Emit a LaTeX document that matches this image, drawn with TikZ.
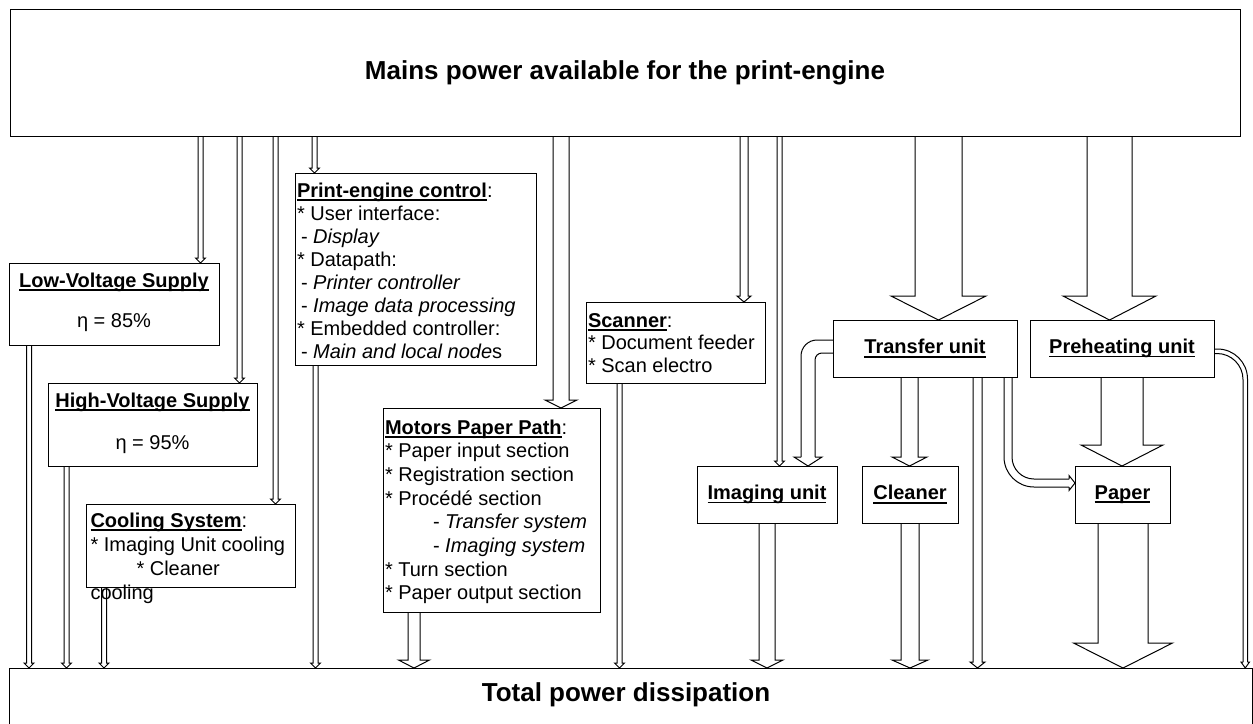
\documentclass[tikz,border=0pt]{standalone}
\usepackage{fontspec}
\setmainfont{Liberation Sans}
\usetikzlibrary{calc}
\pgfdeclarelayer{bg}
\pgfsetlayers{bg,main}

% underline with a fixed rule just below the baseline
\newsavebox\ulbox
\newcommand\ulin[1]{\sbox\ulbox{#1}\rlap{\rule[-3.6pt]{\wd\ulbox}{1.5pt}}\usebox\ulbox}
\newcommand\bigbold{\fontsize{26}{30}\selectfont\bfseries}
\newcommand\firstline{\rule{0pt}{15pt}}

% vertical block arrow from the south side of #1 to the north side of #2
% #3 centre x, #4 shaft width, #5 head width, #6 head length
\newcommand\varrow[6]{%
  \draw[flow] let \p1=(#1.south), \p2=(#2.north) in
    (#3pt-#4pt/2,\y1) -- (#3pt-#4pt/2,\y2+#6pt) -- (#3pt-#5pt/2,\y2+#6pt) -- (#3pt,\y2)
    -- (#3pt+#5pt/2,\y2+#6pt) -- (#3pt+#4pt/2,\y2+#6pt) -- (#3pt+#4pt/2,\y1);}

\begin{document}
\begin{tikzpicture}[x=1pt,y=-1pt,
  box/.style={draw=black,fill=white,line width=1pt,inner sep=0pt,outer sep=0pt,anchor=north west},
  flow/.style={draw=black,fill=white,line width=1pt,line join=miter},
  fline/.style={draw=black,line width=1pt,line join=miter},
  txt/.style={inner sep=0pt,outer sep=0pt,align=left,anchor=north west},
  lbl/.style={inner sep=0pt,outer sep=0pt,anchor=base,font=\fontsize{20}{24}\selectfont},
  ulbl/.style={font=\fontsize{20}{24}\selectfont\bfseries}]

\useasboundingbox (0,0) rectangle (1253,723);

% supply and sink
\node[box,minimum width=1230pt,minimum height=127pt,font=\bigbold] (mains) at (10,9)
  {Mains power available for the print-engine};
\node[box,minimum width=1243pt,minimum height=56pt] (total) at (9,668) {};
\node[inner sep=0pt,font=\bigbold] (total-t) at (626,695) {Total power dissipation};

% power supplies
\node[box,minimum width=210pt,minimum height=82pt] (lv) at (9,263) {};
\node[lbl] (lv-t) at (114,287) {\bfseries\ulin{Low-Voltage Supply}};
\node[lbl] (lv-e) at (114,327) {η = 85\%};
\node[box,minimum width=209pt,minimum height=83pt] (hv) at (48,383) {};
\node[lbl] (hv-t) at (152.5,407) {\bfseries\ulin{High-Voltage Supply}};
\node[lbl] (hv-e) at (152.5,449) {η = 95\%};

% cooling
\node[box,minimum width=209pt,minimum height=83pt] (cool) at (86,504) {};
\node[txt,font=\fontsize{20}{24}\selectfont] (cool-t) at (90.5,512)
  {\firstline\ulin{\textbf{Cooling System}}:\\
   * Imaging Unit cooling\\
   \hspace*{46pt}* Cleaner\\
   cooling};

% print-engine control
\node[box,minimum width=241pt,minimum height=192pt] (pe) at (295,173) {};
\node[txt,font=\fontsize{20}{23.1}\selectfont] (pe-t) at (297,182)
  {\firstline\ulin{\textbf{Print-engine control}}:\\
   * User interface:\\
   \hspace*{4pt}- \textit{Display}\\
   * Datapath:\\
   \hspace*{4pt}- \textit{Printer controller}\\
   \hspace*{4pt}- \textit{Image data processing}\\
   * Embedded controller:\\
   \hspace*{4pt}- \textit{Main and local node}s};

% paper path motors
\node[box,minimum width=217pt,minimum height=204pt] (mot) at (383,408) {};
\node[txt,font=\fontsize{20}{23.7}\selectfont] (mot-t) at (385,419)
  {\firstline\ulin{\textbf{Motors Paper Path}}:\\
   * Paper input section\\
   * Registration section\\
   * Procédé section\\
   \hspace*{48pt}- \textit{Transfer system}\\
   \hspace*{48pt}- \textit{Imaging system}\\
   * Turn section\\
   * Paper output section};

% scanner
\node[box,minimum width=179pt,minimum height=81pt] (scan) at (586,302) {};
\node[txt,font=\fontsize{20}{22.5}\selectfont] (scan-t) at (588,312)
  {\firstline\ulin{\textbf{Scanner}}:\\
   * Document feeder\\
   * Scan electro};

% process units
\node[box,minimum width=184pt,minimum height=57pt,ulbl] (tr) at (833,320) {\ulin{Transfer unit}};
\node[box,minimum width=184pt,minimum height=57pt,ulbl] (ph) at (1030,320) {\ulin{Preheating unit}};
\node[box,minimum width=140pt,minimum height=57pt,ulbl] (img) at (697,466) {\ulin{Imaging unit}};
\node[box,minimum width=96pt,minimum height=57pt,ulbl] (cln) at (862,466) {\ulin{Cleaner}};
\node[box,minimum width=95pt,minimum height=57pt,ulbl] (pap) at (1075,466) {\ulin{Paper}};

\begin{pgfonlayer}{bg}
  % flows out of the mains
  \varrow{mains}{lv}{200.5}{5}{10}{5}
  \varrow{mains}{hv}{239.5}{5}{10}{5}
  \varrow{mains}{cool}{275.5}{5}{10}{5}
  \varrow{mains}{pe}{314.5}{5}{10}{5}
  \varrow{mains}{mot}{561}{16}{32}{8}
  \varrow{mains}{scan}{744}{8}{14}{6}
  \varrow{mains}{img}{779.5}{5}{10}{5}
  \varrow{mains}{tr}{938.5}{47}{95}{24}
  \varrow{mains}{ph}{1109.5}{45}{93}{24}
  % flows into the dissipation
  \varrow{lv}{total}{29}{5}{10}{5}
  \varrow{hv}{total}{66.5}{5}{10}{5}
  \varrow{cool}{total}{104}{5}{10}{5}
  \varrow{pe}{total}{315.5}{5}{10}{5}
  \varrow{mot}{total}{414}{12}{31}{8}
  \varrow{scan}{total}{619.5}{5}{10}{5}
  \varrow{img}{total}{767}{16}{32}{8}
  \varrow{cln}{total}{910}{18}{36}{8}
  \varrow{tr}{total}{977.5}{9}{15}{6}
  \varrow{pap}{total}{1123}{50}{99}{25}
  % flows between the units
  \varrow{tr}{cln}{909.5}{17}{35}{9}
  \varrow{ph}{pap}{1122}{42}{82}{21}
  % transfer unit -> imaging unit
  \draw[fline,rounded corners=16pt] (tr.west |- 0,340) -- (801,340) -- (801,457);
  \draw[fline,rounded corners=7pt] (tr.west |- 0,353) -- (815,353) -- (815,457);
  \draw[fline] (801,457) -- (794,457) -- (img.north -| 808,0) -- (822,457) -- (815,457);
  % transfer unit -> paper
  \draw[fline,rounded corners=30pt] (tr.south -| 1004,0) -- (1004,487) -- (1069,487);
  \draw[fline,rounded corners=22pt] (tr.south -| 1012,0) -- (1012,479) -- (1069,479);
  \draw[fline] (1069,479) -- (1069,475.5) -- (pap.west |- 0,483) -- (1069,490.5) -- (1069,487);
  % preheating unit -> dissipation
  \draw[fline,rounded corners=30pt] (ph.east |- 0,349) -- (1247.5,349) -- (1247.5,662);
  \draw[fline,rounded corners=26pt] (ph.east |- 0,353.5) -- (1243,353.5) -- (1243,662);
  \draw[fline] (1243,662) -- (1241,662) -- (total.north -| 1245.25,0) -- (1249.5,662) -- (1247.5,662);
\end{pgfonlayer}
\end{tikzpicture}
\end{document}
